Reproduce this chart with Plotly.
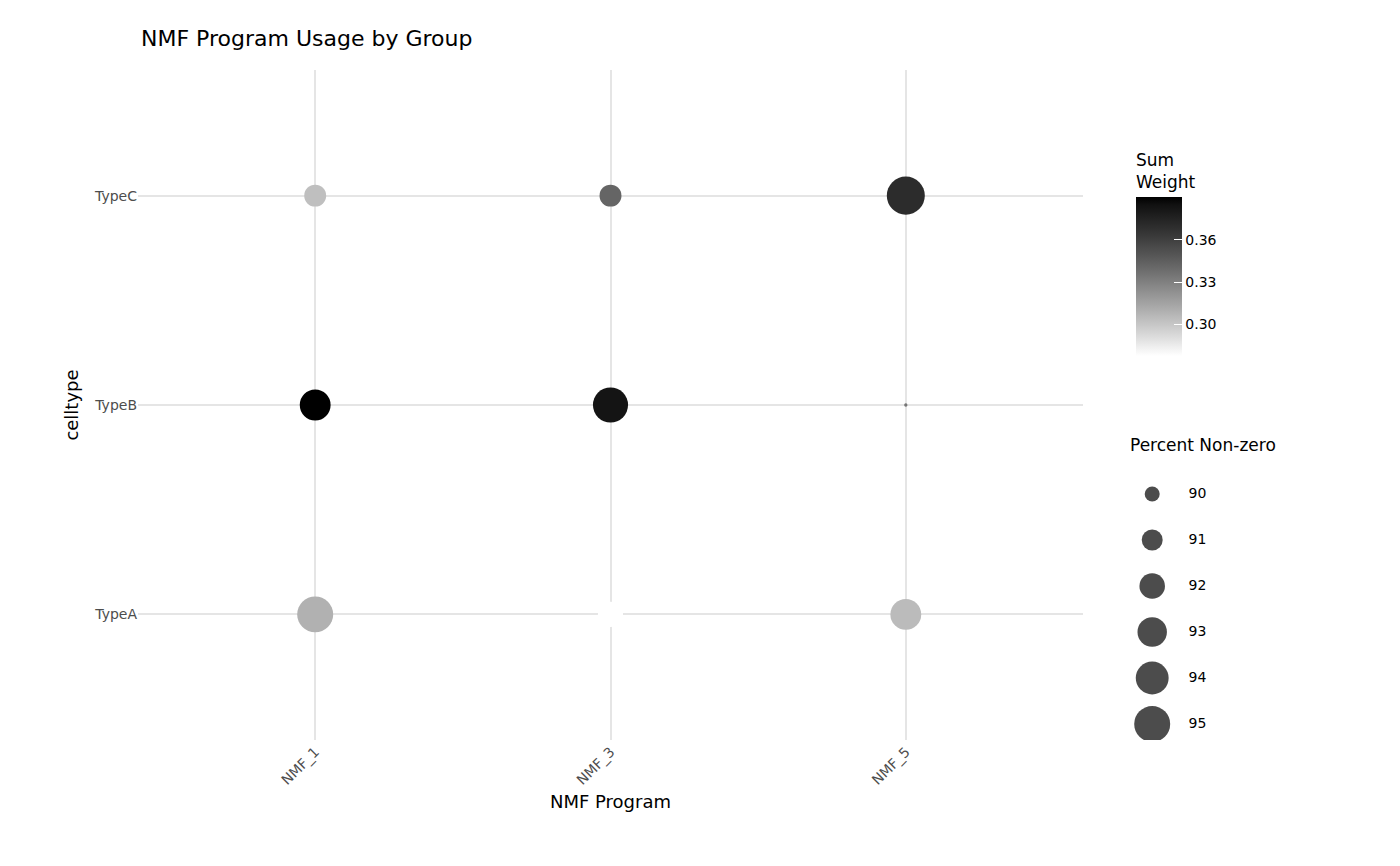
import plotly.graph_objects as go
import numpy as np

programs = ["NMF_1", "NMF_3", "NMF_5"]
celltypes = ["TypeA", "TypeB", "TypeC"]
# rows: celltype, cols: program
pct = {"TypeA": [95.0, 91.9, 93.4], "TypeB": [93.4, 94.7, 89.0], "TypeC": [91.2, 91.2, 95.7]}
wt = {"TypeA": [0.309, 0.2775, 0.305], "TypeB": [0.3905, 0.383, 0.335], "TypeC": [0.303, 0.342, 0.370]}
legend_vals = [90, 91, 92, 93, 94, 95]
cb_ticks = [0.30, 0.33, 0.36]
CMIN, CMAX = 0.2775, 0.3905

def diam(v):
    return np.sqrt(np.maximum(225 + 214 * (np.asarray(v, float) - 90), 4))

def lab_gray(t):
    L = 100 * (1 - t)
    y = ((L + 16) / 116) ** 3 if L > 8 else L / 903.3
    c = 12.92 * y if y <= 0.0031308 else 1.055 * y ** (1 / 2.4) - 0.055
    g = int(round(255 * min(max(c, 0), 1)))
    return f"rgb({g},{g},{g})"

cscale = [[i / 20, lab_gray(i / 20)] for i in range(21)]

xs, ys, ps, ws = [], [], [], []
for ct in celltypes:
    for j, p in enumerate(programs):
        xs.append(p); ys.append(ct); ps.append(pct[ct][j]); ws.append(wt[ct][j])

fig = go.Figure()
fig.add_trace(go.Scatter(
    x=xs, y=ys, mode="markers", showlegend=False,
    marker=dict(size=diam(ps), color=ws, colorscale=cscale, cmin=CMIN, cmax=CMAX,
                line=dict(width=0), opacity=1,
                colorbar=dict(title=dict(text="Sum<br>Weight", font=dict(size=17, color="black"), side="top"),
                              x=988 / 1250, xanchor="left", y=0.727, yanchor="middle",
                              lenmode="pixels", len=226, thickness=46, thicknessmode="pixels",
                              outlinewidth=0, tickvals=cb_ticks, ticktext=["0.30", "0.33", "0.36"],
                              ticks="inside", ticklen=8, tickcolor="white",
                              tickfont=dict(size=14, color="black"))),
))

n = len(legend_vals)
rows = list(range(n))
fig.add_trace(go.Scatter(
    x=[0.22] * n, y=rows, mode="markers", showlegend=False, hoverinfo="skip",
    marker=dict(size=diam(legend_vals), color="black", line=dict(width=0)),
    xaxis="x2", yaxis="y2"))
fig.add_trace(go.Scatter(
    x=[0.55] * n, y=rows, mode="text", text=[str(v) for v in legend_vals],
    textposition="middle right", showlegend=False, hoverinfo="skip",
    textfont=dict(size=14, color="black"), xaxis="x2", yaxis="y2"))

top_px, step = 486, 46
grid = "#e5e5e5"
fig.update_layout(
    width=1400, height=866, plot_bgcolor="white", paper_bgcolor="white",
    margin=dict(l=130, r=20, t=62, b=134),
    font=dict(family="DejaVu Sans", color="black"),
    title=dict(text="NMF Program Usage by Group", x=133 / 1400, xanchor="left", y=1 - 30 / 866,
               yanchor="middle", font=dict(size=22, color="black")),
    xaxis=dict(domain=[0, 945 / 1250], type="category", categoryorder="array", categoryarray=programs,
               range=[-0.6, 2.6], showgrid=True, gridcolor=grid, gridwidth=2, zeroline=False,
               tickangle=-45, tickfont=dict(size=14, color="#4d4d4d"), ticks="",
               title=dict(text="NMF Program", font=dict(size=18, color="black"), standoff=8)),
    yaxis=dict(type="category", categoryorder="array", categoryarray=celltypes,
               range=[-0.6, 2.6], showgrid=True, gridcolor=grid, gridwidth=2, zeroline=False,
               tickfont=dict(size=14, color="#4d4d4d"), ticks="",
               title=dict(text="celltype", font=dict(size=18, color="black"), standoff=10)),
    xaxis2=dict(domain=[990 / 1250, 1100 / 1250], range=[0, 1], visible=False, fixedrange=True),
    yaxis2=dict(domain=[0, 1], anchor="x2", visible=False,
                range=[(732 - top_px) / step, (62 - top_px) / step]),
    annotations=[dict(text="Percent Non-zero", x=990 / 1250, xanchor="left", y=1 - (437 - 62) / 670,
                      yanchor="middle", xref="paper", yref="paper", showarrow=False,
                      font=dict(size=17, color="black"))],
)
fig.write_html("out.html")
